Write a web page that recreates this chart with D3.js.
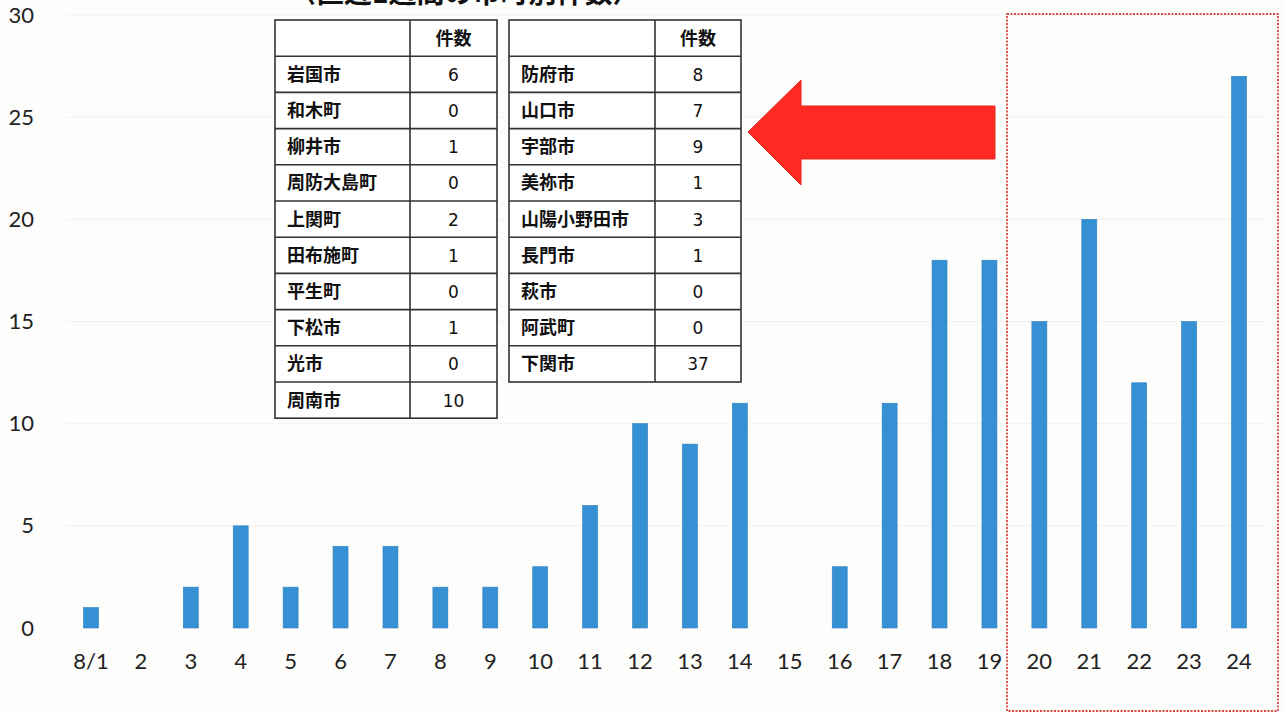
<!DOCTYPE html>
<html lang="ja">
<head>
<meta charset="utf-8">
<script src="https://cdn.jsdelivr.net/npm/d3@7"></script>
<style>
  html, body { margin: 0; padding: 0; background: #fdfdfb; }
  svg { display: block; }
</style>
</head>
<body>
<svg id="chart" width="1284" height="714"></svg>
<script>
// Daily counts, 8/1 – 8/24
const days = ["8/1","2","3","4","5","6","7","8","9","10","11","12","13","14","15","16","17","18","19","20","21","22","23","24"];
const counts = [1,0,2,5,2,4,4,2,2,3,6,10,9,11,0,3,11,18,18,15,20,12,15,27];
const yTicks = [0,5,10,15,20,25,30];

// Breakdown by municipality (last week)
const tableHeader = "件数";
const eastNames = ["岩国市","和木町","柳井市","周防大島町","上関町","田布施町","平生町","下松市","光市","周南市"];
const eastCounts = [6,0,1,0,2,1,0,1,0,10];
const westNames = ["防府市","山口市","宇部市","美祢市","山陽小野田市","長門市","萩市","阿武町","下関市"];
const westCounts = [8,7,9,1,3,1,0,0,37];
const tableTitle = "〈直近1週間の市町別件数〉";

const svg = d3.select("#chart");
const numFont = "Lato, 'Open Sans', sans-serif";
const jpFont = "'Noto Sans CJK JP', sans-serif";

const x = d3.scaleBand().domain(days).range([66, 1264]).paddingInner(0.7).paddingOuter(0.35);
const y = d3.scaleLinear().domain([0, 30]).range([628, 15]);

// faint gridlines
svg.append("g")
  .selectAll("line")
  .data(yTicks.slice(1))
  .join("line")
  .attr("x1", 66).attr("x2", 1264)
  .attr("y1", d => y(d)).attr("y2", d => y(d))
  .attr("stroke", "#f1f1ef").attr("stroke-width", 1);

// y axis labels
const yAxis = svg.append("g")
  .attr("transform", "translate(34,0)")
  .call(d3.axisLeft(y).tickValues(yTicks).tickSize(0).tickPadding(0));
yAxis.select(".domain").remove();
yAxis.selectAll("text")
  .attr("font-family", numFont).attr("font-size", 22).attr("fill", "#222");

// x axis labels
const xAxis = svg.append("g")
  .attr("transform", "translate(0,653)")
  .call(d3.axisBottom(x).tickSize(0).tickPadding(0));
xAxis.select(".domain").remove();
xAxis.selectAll("text")
  .attr("font-family", numFont).attr("font-size", 22).attr("fill", "#222");

// bars
svg.append("g")
  .selectAll("rect")
  .data(counts)
  .join("rect")
  .attr("x", (d, i) => x(days[i]))
  .attr("width", x.bandwidth())
  .attr("y", d => y(d))
  .attr("height", d => y(0) - y(d))
  .attr("fill", "#3690d4")
  .attr("stroke", "#2f7fbf")
  .attr("stroke-width", 0.6);

// heading above the tables (runs past the top edge)
svg.append("text")
  .attr("x", 288).attr("y", 3)
  .attr("font-family", jpFont).attr("font-weight", 700)
  .attr("font-size", 28).attr("fill", "#111")
  .text(tableTitle);

// municipality tables
function drawTable(g, names, values, x0, w1, w2, top, rowH) {
  const rows = [{ name: "", value: tableHeader, head: true }]
    .concat(names.map((n, i) => ({ name: n, value: values[i] })));
  const h = rows.length * rowH;
  g.append("rect")
    .attr("x", x0).attr("y", top).attr("width", w1 + w2).attr("height", h)
    .attr("fill", "#fff").attr("stroke", "#333").attr("stroke-width", 1.6);
  g.append("line")
    .attr("x1", x0 + w1).attr("x2", x0 + w1).attr("y1", top).attr("y2", top + h)
    .attr("stroke", "#333").attr("stroke-width", 1.6);
  g.selectAll("line.row")
    .data(rows.slice(1))
    .join("line")
    .attr("class", "row")
    .attr("x1", x0).attr("x2", x0 + w1 + w2)
    .attr("y1", (d, i) => top + (i + 1) * rowH)
    .attr("y2", (d, i) => top + (i + 1) * rowH)
    .attr("stroke", "#333").attr("stroke-width", 1.6);
  g.selectAll("text.name")
    .data(rows)
    .join("text")
    .attr("class", "name")
    .attr("x", x0 + 12)
    .attr("y", (d, i) => top + i * rowH + rowH / 2 + 6.5)
    .attr("font-family", jpFont).attr("font-weight", 700)
    .attr("font-size", 18).attr("fill", "#111")
    .text(d => d.name);
  g.selectAll("text.val")
    .data(rows)
    .join("text")
    .attr("class", "val")
    .attr("x", x0 + w1 + w2 / 2)
    .attr("y", (d, i) => top + i * rowH + rowH / 2 + 6.5)
    .attr("text-anchor", "middle")
    .attr("font-family", d => d.head ? jpFont : "'DejaVu Sans', sans-serif")
    .attr("font-weight", d => d.head ? 700 : 400)
    .attr("font-size", d => d.head ? 18 : 17).attr("fill", "#111")
    .text(d => d.value);
}
drawTable(svg.append("g"), eastNames, eastCounts, 275, 135, 87, 20, 36.2);
drawTable(svg.append("g"), westNames, westCounts, 509, 146, 86, 20, 36.2);

// red arrow pointing toward the tables
svg.append("path")
  .attr("d", d3.line()([[748,132],[801,80],[801,106],[995,106],[995,159],[801,159],[801,185]]) + "Z")
  .attr("fill", "#ff2b22")
  .attr("stroke", "#e8261e").attr("stroke-width", 1);

// dotted frame around the last five days
svg.append("rect")
  .attr("x", 1007).attr("y", 14).attr("width", 271).attr("height", 697)
  .attr("fill", "none")
  .attr("stroke", "#d9453f").attr("stroke-width", 1.8)
  .attr("stroke-dasharray", "2,1.5");
</script>
</body>
</html>
